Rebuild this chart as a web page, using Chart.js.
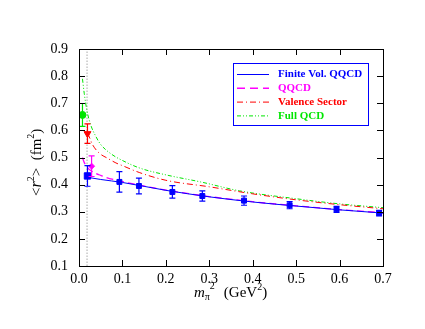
<!DOCTYPE html>
<html>
<head>
<meta charset="utf-8">
<script src="https://cdn.jsdelivr.net/npm/chart.js@4.4.0/dist/chart.umd.min.js"></script>
<style>
  body { margin: 0; background: #fff; }
  #wrap { width: 425px; height: 329px; }
</style>
</head>
<body>
<div id="wrap"><canvas id="myChart" width="425" height="329"></canvas></div>
<script>
// lattice points
const blueX = [0.0195, 0.093, 0.138, 0.215, 0.284, 0.380, 0.485, 0.593, 0.691];
const blueY = [0.432, 0.410, 0.395, 0.373, 0.358, 0.341, 0.324, 0.309, 0.295];
const blueErr = [0.038, 0.038, 0.029, 0.023, 0.019, 0.017, 0.013, 0.011, 0.010];

const greenX = [0.008];
const greenY = [0.657];
const greenErr = [0.042];

const redX = [0.0195];
const redY = [0.588];
const redErr = [0.036];

const magX = [0.029];
const magY = [0.468];
const magErr = [0.038];

// fit curves
const fvX = [0.02, 0.05, 0.1, 0.2, 0.3, 0.4, 0.5, 0.6, 0.7];
const fvY = [0.427, 0.419, 0.408, 0.379, 0.355, 0.336, 0.321, 0.307, 0.295];

const qqX = [0.008, 0.012, 0.02, 0.027, 0.05, 0.081, 0.1, 0.2, 0.3, 0.4, 0.5, 0.6, 0.7];
const qqY = [0.500, 0.482, 0.462, 0.452, 0.434, 0.418, 0.411, 0.380, 0.356, 0.337, 0.322, 0.308, 0.296];

const valX = [0.02, 0.026, 0.031, 0.046, 0.066, 0.085, 0.1, 0.14, 0.2, 0.3, 0.4, 0.5, 0.6, 0.7];
const valY = [0.590, 0.567, 0.548, 0.517, 0.497, 0.480, 0.470, 0.444, 0.416, 0.392, 0.366, 0.344, 0.326, 0.311];

const fullX = [0.008, 0.012, 0.018, 0.027, 0.039, 0.05, 0.075, 0.1, 0.14, 0.2, 0.28, 0.37, 0.5, 0.6, 0.7];
const fullY = [0.790, 0.737, 0.675, 0.620, 0.577, 0.548, 0.512, 0.489, 0.461, 0.436, 0.410, 0.377, 0.348, 0.329, 0.315];

const physX = [0.0185, 0.0185];
const physY = [0.1, 0.9];

const legendNames = ['Finite Vol. QQCD', 'QQCD', 'Valence Sector', 'Full QCD'];

const BLUE = '#0000ff', MAG = '#ff00ff', RED = '#ff0000', GREEN = '#00e600';
const SERIF = '"Liberation Serif"';

function pts(xs, ys) {
    return xs.map((x, i) => ({x: x, y: ys[i]}));
}

const errSets = [
    {x: blueX, y: blueY, e: blueErr, c: BLUE},
    {x: greenX, y: greenY, e: greenErr, c: GREEN},
    {x: redX, y: redY, e: redErr, c: RED},
    {x: magX, y: magY, e: magErr, c: MAG}
];

const framePlugin = {
    id: 'frame',
    afterDatasetsDraw(chart) {
        const ctx = chart.ctx;
        const xs = chart.scales.x, ys = chart.scales.y;
        const a = chart.chartArea;
        ctx.save();
        // error bars
        errSets.forEach(s => {
            ctx.strokeStyle = s.c;
            ctx.lineWidth = 1.2;
            s.x.forEach((xv, i) => {
                const px = xs.getPixelForValue(xv);
                const top = ys.getPixelForValue(s.y[i] + s.e[i]);
                const bot = ys.getPixelForValue(s.y[i] - s.e[i]);
                ctx.beginPath();
                ctx.moveTo(px, top); ctx.lineTo(px, bot);
                ctx.moveTo(px - 3, top); ctx.lineTo(px + 3, top);
                ctx.moveTo(px - 3, bot); ctx.lineTo(px + 3, bot);
                ctx.stroke();
            });
        });
        // frame + inward ticks
        ctx.strokeStyle = '#000';
        ctx.lineWidth = 1;
        ctx.strokeRect(a.left + 0.5, a.top + 0.5, a.right - a.left, a.bottom - a.top);
        ctx.beginPath();
        xs.ticks.forEach(t => {
            const px = Math.round(xs.getPixelForValue(t.value)) + 0.5;
            ctx.moveTo(px, a.bottom); ctx.lineTo(px, a.bottom - 6);
            ctx.moveTo(px, a.top); ctx.lineTo(px, a.top + 6);
        });
        ys.ticks.forEach(t => {
            const py = Math.round(ys.getPixelForValue(t.value)) + 0.5;
            ctx.moveTo(a.left, py); ctx.lineTo(a.left + 6, py);
            ctx.moveTo(a.right, py); ctx.lineTo(a.right - 6, py);
        });
        ctx.stroke();

        // legend
        ctx.strokeStyle = BLUE;
        ctx.lineWidth = 1;
        ctx.strokeRect(233.5, 63.5, 135, 62);
        const cols = [BLUE, MAG, RED, GREEN];
        const dashes = [[], [8, 5], [6, 3, 1, 3], [4, 2, 1, 2, 1, 2]];
        ctx.font = 'bold 11px "Liberation Serif"';
        ctx.textBaseline = 'middle';
        legendNames.forEach((n, i) => {
            const y = 74.5 + i * 13.8;
            ctx.strokeStyle = cols[i];
            ctx.lineWidth = i === 1 ? 1.5 : 1;
            ctx.setLineDash(dashes[i]);
            ctx.beginPath(); ctx.moveTo(237, y); ctx.lineTo(269, y); ctx.stroke();
            ctx.setLineDash([]);
            ctx.fillStyle = cols[i];
            ctx.fillText(n, 278, y);
        });

        // axis titles
        ctx.fillStyle = '#000';
        ctx.textBaseline = 'alphabetic';
        let x = 194, y = 297;
        ctx.font = 'italic 15px ' + SERIF;
        ctx.fillText('m', x, y); x += ctx.measureText('m').width;
        ctx.font = '10px ' + SERIF;
        ctx.fillText('π', x, y + 3);
        ctx.fillText('2', x + 5, y - 8);
        x += 19;
        ctx.font = '15px ' + SERIF;
        ctx.fillText('(GeV', x, y); x += ctx.measureText('(GeV').width;
        ctx.font = '10px ' + SERIF;
        ctx.fillText('2', x, y - 7); x += ctx.measureText('2').width;
        ctx.font = '15px ' + SERIF;
        ctx.fillText(')', x, y);

        ctx.translate(41, 196);
        ctx.rotate(-Math.PI / 2);
        x = 0;
        ctx.font = '15px ' + SERIF;
        ctx.fillText('<', x, 0); x += ctx.measureText('<').width;
        ctx.font = 'italic 16px ' + SERIF;
        ctx.fillText('r', x, 0); x += ctx.measureText('r').width;
        ctx.font = '10px ' + SERIF;
        ctx.fillText('2', x, -7); x += ctx.measureText('2').width;
        ctx.font = '15px ' + SERIF;
        ctx.fillText('>  (fm', x, 0); x += ctx.measureText('>  (fm').width;
        ctx.font = '10px ' + SERIF;
        ctx.fillText('2', x, -7); x += ctx.measureText('2').width;
        ctx.font = '15px ' + SERIF;
        ctx.fillText(')', x, 0);
        ctx.restore();
    }
};

const ctx = document.getElementById('myChart').getContext('2d');
const chart = new Chart(ctx, {
    type: 'scatter',
    data: {
        datasets: [
            {data: pts(blueX, blueY), backgroundColor: BLUE, borderColor: BLUE, pointStyle: 'rect',
             pointRadius: blueX.map((v, i) => i === 0 ? 4.5 : 3.5), showLine: false},
            {data: pts(greenX, greenY), backgroundColor: GREEN, borderColor: GREEN, pointStyle: 'circle', pointRadius: 3.5, showLine: false},
            {data: pts(redX, redY), backgroundColor: RED, borderColor: RED, pointStyle: 'triangle', rotation: 180, pointRadius: 4, showLine: false},
            {data: pts(magX, magY), backgroundColor: MAG, borderColor: MAG, pointStyle: 'rectRot', pointRadius: 3, showLine: false},
            {data: pts(fvX, fvY), borderColor: BLUE, borderWidth: 1, showLine: true, pointRadius: 0, cubicInterpolationMode: 'monotone'},
            {data: pts(qqX, qqY), borderColor: MAG, borderWidth: 1.3, borderDash: [7, 4], showLine: true, pointRadius: 0, cubicInterpolationMode: 'monotone'},
            {data: pts(valX, valY), borderColor: RED, borderWidth: 1, borderDash: [6, 3, 1, 3], showLine: true, pointRadius: 0, cubicInterpolationMode: 'monotone'},
            {data: pts(fullX, fullY), borderColor: GREEN, borderWidth: 1, borderDash: [4, 2, 1, 2, 1, 2], showLine: true, pointRadius: 0, cubicInterpolationMode: 'monotone'},
            {data: pts(physX, physY), borderColor: '#aaaaaa', borderWidth: 1, borderDash: [1.5, 1.5], showLine: true, pointRadius: 0}
        ]
    },
    options: {
        responsive: false,
        animation: false,
        layout: {padding: {left: 0, right: 42, top: 49, bottom: 20}},
        plugins: {legend: {display: false}, tooltip: {enabled: false}},
        scales: {
            x: {
                type: 'linear', min: 0, max: 0.7,
                grid: {display: false, drawTicks: false}, border: {display: false},
                ticks: {stepSize: 0.1, padding: 5, color: '#000', maxRotation: 0,
                        font: {family: SERIF, size: 14},
                        callback: v => v.toFixed(1)},
                afterFit: s => { s.height = 43; }
            },
            y: {
                min: 0.1, max: 0.9,
                grid: {display: false, drawTicks: false}, border: {display: false},
                ticks: {stepSize: 0.1, padding: 11, color: '#000',
                        font: {family: SERIF, size: 14},
                        callback: v => v.toFixed(1)},
                afterFit: s => { s.width = 79; }
            }
        }
    },
    plugins: [framePlugin]
});
</script>
</body>
</html>
